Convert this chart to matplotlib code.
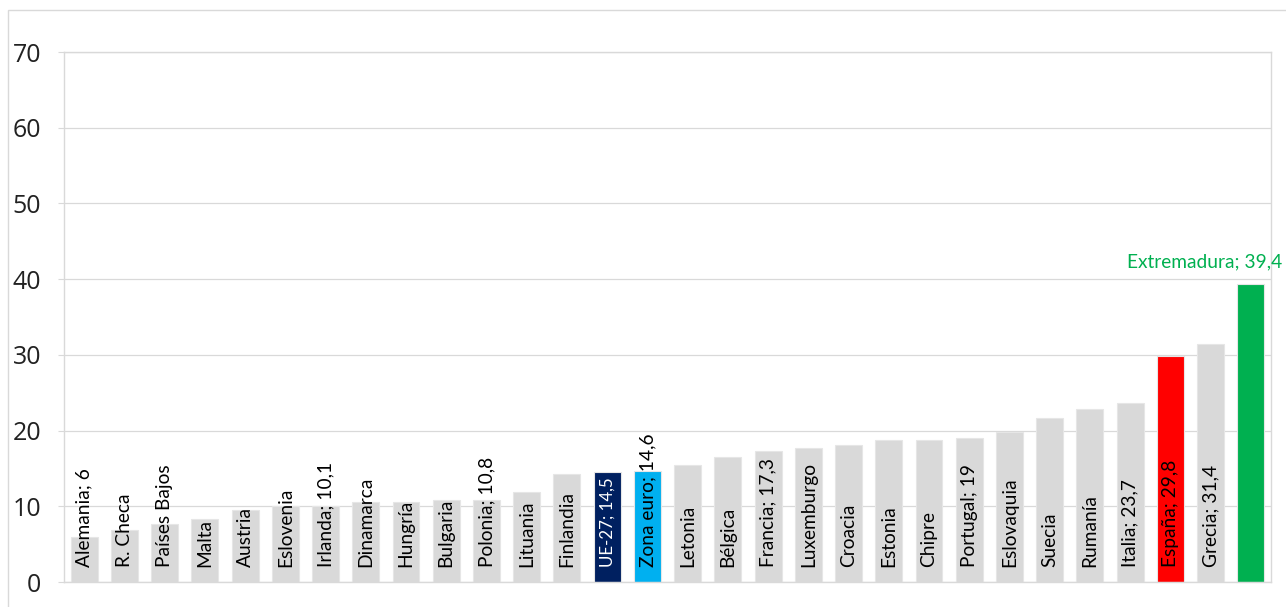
import matplotlib.pyplot as plt
from matplotlib.patches import Rectangle

countries = ['Alemania', 'R. Checa', 'Países Bajos', 'Malta', 'Austria', 'Eslovenia',
             'Irlanda', 'Dinamarca', 'Hungría', 'Bulgaria', 'Polonia', 'Lituania',
             'Finlandia', 'UE-27', 'Zona euro', 'Letonia', 'Bélgica', 'Francia',
             'Luxemburgo', 'Croacia', 'Estonia', 'Chipre', 'Portugal', 'Eslovaquia',
             'Suecia', 'Rumanía', 'Italia', 'España', 'Grecia', 'Extremadura']
values = [6.0, 6.9, 7.6, 8.3, 9.5, 10.1, 10.1, 10.6, 10.6, 10.8, 10.8, 11.9,
          14.2, 14.5, 14.6, 15.4, 16.5, 17.3, 17.7, 18.1, 18.7, 18.7, 19.0, 19.8,
          21.7, 22.8, 23.7, 29.8, 31.4, 39.4]
labels = ['Alemania; 6', 'R. Checa', 'Países Bajos', 'Malta', 'Austria', 'Eslovenia',
          'Irlanda; 10,1', 'Dinamarca', 'Hungría', 'Bulgaria', 'Polonia; 10,8', 'Lituania',
          'Finlandia', 'UE-27; 14,5', 'Zona euro; 14,6', 'Letonia', 'Bélgica', 'Francia; 17,3',
          'Luxemburgo', 'Croacia', 'Estonia', 'Chipre', 'Portugal; 19', 'Eslovaquia',
          'Suecia', 'Rumanía', 'Italia; 23,7', 'España; 29,8', 'Grecia; 31,4', 'Extremadura; 39,4']
highlight = {'UE-27': ('#002060', 'white'), 'Zona euro': ('#00B0F0', 'black'),
             'España': ('#FF0000', 'black'), 'Extremadura': ('#00B050', '#00B050')}

grey = '#D9D9D9'
colors = [highlight.get(c, (grey, 'black'))[0] for c in countries]

fig = plt.figure(figsize=(12.86, 6.07), dpi=100)
ax = fig.add_axes([64 / 1286, 25 / 607, (1271 - 64) / 1286, (582 - 52) / 607])

x = list(range(len(countries)))
ax.bar(x, values, width=0.67, color=colors, edgecolor='#E6E6E6', linewidth=0.8, zorder=2)

for i, (c, lab) in enumerate(zip(countries, labels)):
    if c == 'Extremadura':
        ax.annotate(lab, (i, values[i]), xytext=(-33, 16), textcoords='offset points',
                    ha='center', va='center', fontsize=13.8, color='#00B050',
                    family='Lato', annotation_clip=False)
        continue
    tc = highlight.get(c, (grey, 'black'))[1]
    # white text must stay inside the dark bar
    fs = 12.2 if c == 'UE-27' else 13.8
    ax.annotate(lab, (i, 0), xytext=(0, 11), textcoords='offset points',
                rotation=90, ha='center', va='bottom', fontsize=fs, color=tc,
                family='Lato', zorder=3)

ax.set_xlim(-0.5, len(countries) - 0.5)
ax.set_ylim(0, 70)
ax.set_yticks(range(0, 71, 10))
ax.set_xticks([])
ax.grid(axis='y', color=grey, linewidth=0.9, zorder=0)
ax.tick_params(axis='y', length=4.5, color=grey, pad=12, labelsize=18, labelcolor='#222222')
for lab in ax.get_yticklabels():
    lab.set_family('Open Sans')
for s in ax.spines.values():
    s.set_color(grey)
    s.set_linewidth(1)

fig.patches.append(Rectangle((8 / 1286, -0.05), 1.1, 1 - 10 / 607 + 0.05,
                             transform=fig.transFigure, fill=False,
                             edgecolor=grey, linewidth=1))

fig.savefig('out.png', dpi=100)
